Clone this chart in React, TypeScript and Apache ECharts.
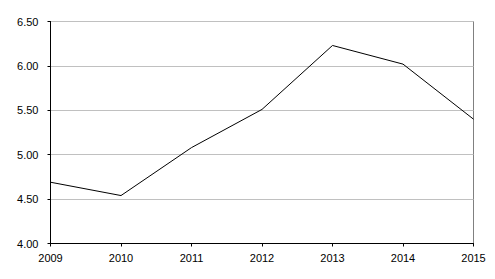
import React, { useEffect, useRef } from "react";
import * as echarts from "echarts";

const years = ["2009", "2010", "2011", "2012", "2013", "2014", "2015"];
const values = [4.69, 4.54, 5.08, 5.51, 6.23, 6.02, 5.4];

export default function App() {
  const ref = useRef<HTMLDivElement>(null);
  useEffect(() => {
    if (!ref.current) return;
    const chart = echarts.init(ref.current, null, { renderer: "svg" });
    chart.setOption({
      animation: false,
      backgroundColor: "#ffffff",
      grid: {
        left: 50.5,
        right: 21.5,
        top: 21.5,
        bottom: 35.5,
        show: true,
        borderColor: "#808080",
        borderWidth: 1,
      },
      xAxis: {
        type: "category",
        data: years,
        boundaryGap: false,
        axisLine: { show: true, lineStyle: { color: "#000000", width: 1 } },
        axisTick: { show: true, length: 3, lineStyle: { color: "#000000" } },
        axisLabel: {
          color: "#000000",
          fontFamily: "Liberation Sans, Arial, sans-serif",
          fontSize: 11,
          margin: 9,
        },
        splitLine: { show: false },
      },
      yAxis: {
        type: "value",
        min: 4,
        max: 6.5,
        interval: 0.5,
        axisLine: { show: true, lineStyle: { color: "#000000", width: 1 } },
        axisTick: { show: true, length: 3, lineStyle: { color: "#000000" } },
        axisLabel: {
          color: "#000000",
          fontFamily: "Liberation Sans, Arial, sans-serif",
          fontSize: 11,
          margin: 12,
          formatter: (v: number) => v.toFixed(2),
        },
        splitLine: { show: true, lineStyle: { color: "#c0c0c0", width: 1 } },
      },
      series: [
        {
          type: "line",
          data: values,
          symbol: "none",
          lineStyle: { color: "#000000", width: 1 },
        },
      ],
    });
    return () => chart.dispose();
  }, []);
  return <div ref={ref} style={{ width: 495, height: 279, margin: -8 }} />;
}
